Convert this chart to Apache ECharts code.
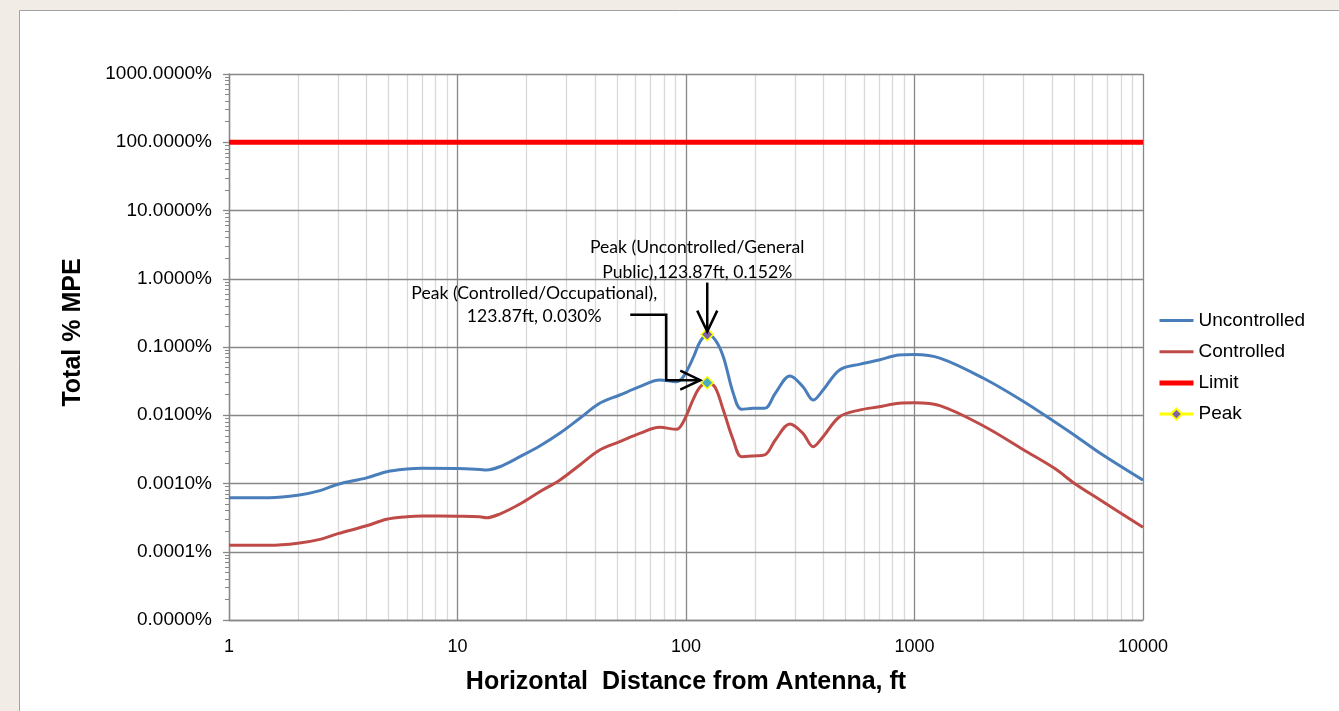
<!DOCTYPE html>
<html>
<head>
<meta charset="utf-8">
<script src="https://cdn.jsdelivr.net/npm/echarts@6/dist/echarts.min.js"></script>
<style>
  html, body { margin: 0; padding: 0; background: #f1ece5; }
  #chart { width: 1339px; height: 711px; }
</style>
</head>
<body>
<div id="chart"></div>
<script>
// Horizontal distance from the antenna (ft)
const distanceFt = [1, 1.5, 2, 2.5, 3, 4, 4.9, 6, 7, 10, 12.5, 13.4, 15.3, 18.75, 22.9, 28, 34.3, 41.9,
  51.3, 62.7, 76.7, 90.8, 97.4, 108, 115, 123.87, 134, 145.6, 161, 175, 197, 221, 246, 285, 325, 360,
  398, 470, 573, 700, 856, 1000, 1300, 2005, 3010, 4100, 5000, 6500, 10000];

// Total % MPE, general public (uncontrolled) exposure
const uncontrolledPct = [0.00062, 0.00062, 0.000671, 0.000785, 0.000975, 0.00121, 0.00149, 0.00163,
  0.00167, 0.00166, 0.00161, 0.00158, 0.00176, 0.00247, 0.00354, 0.00543, 0.00902, 0.01496, 0.0198,
  0.0262, 0.0328, 0.0310, 0.0367, 0.0721, 0.118, 0.152, 0.128, 0.0721, 0.0210, 0.01222, 0.01264,
  0.01264, 0.0210, 0.0376, 0.0262, 0.0167, 0.0234, 0.0461, 0.0557, 0.0645, 0.0764, 0.0777, 0.0683,
  0.0348, 0.0158, 0.00804, 0.00514, 0.00277, 0.00112];

// Total % MPE, occupational (controlled) exposure
const controlledPct = [0.000124, 0.000124, 0.000133, 0.000152, 0.000184, 0.000240, 0.000299, 0.000326,
  0.000334, 0.000331, 0.000326, 0.000315, 0.000357, 0.000501, 0.000759, 0.00112, 0.00187, 0.00310,
  0.00410, 0.00543, 0.00665, 0.00622, 0.00804, 0.0177, 0.0257, 0.030, 0.0257, 0.0119, 0.00434,
  0.00247, 0.00253, 0.00262, 0.00434, 0.00745, 0.00543, 0.00346, 0.00485, 0.00953, 0.0119, 0.0133,
  0.0150, 0.0152, 0.0137, 0.00696, 0.00310, 0.00167, 0.00101, 0.000573, 0.000228];

// 100 % MPE limit across the full distance range
const limitDistance = [1, 10000];
const limitPct = [100, 100];

// Peak points
const peakDistanceFt = 123.87;
const peakUncontrolledPct = 0.152;
const peakControlledPct = 0.030;
const peakUncontrolledLabel = ['Peak (Uncontrolled/General', 'Public),123.87ft, 0.152%'];
const peakControlledLabel = ['Peak (Controlled/Occupational),', '123.87ft, 0.030%'];

// Axis ranges
const xRange = [1, 10000];
const yRange = [0.00001, 1000];

// 2..9 sub-decade positions for the minor grid and minor ticks
function subDecades(lo, hi) {
  const out = [];
  for (let d = lo; d < hi; d *= 10) {
    for (let k = 2; k <= 9; k++) out.push(+(d * k).toPrecision(6));
  }
  return out;
}
const xMinor = subDecades(xRange[0], xRange[1]);
const yMinor = subDecades(yRange[0], yRange[1]);

const pairs = (xs, ys) => xs.map((x, i) => [x, ys[i]]);

const AXIS_GREY = '#878787';
const MINOR_GREY = '#d9d9d9';
const LABEL_FONT = '"Liberation Sans", Arial, sans-serif';
const NOTE_FONT = 'Lato, "Open Sans", sans-serif';

const chart = echarts.init(document.getElementById('chart'), null, { renderer: 'canvas' });

const option = {
  animation: false,
  backgroundColor: 'transparent',
  grid: { left: 229, top: 74, right: 196, bottom: 91, containLabel: false },
  xAxis: [
    {
      type: 'log', logBase: 10, min: xRange[0], max: xRange[1], splitNumber: 4, z: 2,
      name: 'Horizontal  Distance from Antenna, ft', nameLocation: 'middle', nameGap: 50,
      nameTextStyle: { fontFamily: LABEL_FONT, fontWeight: 'bold', fontSize: 25, color: '#000' },
      axisLine: { show: true, lineStyle: { color: AXIS_GREY, width: 1.3 } },
      axisTick: { show: false },
      axisLabel: { fontFamily: LABEL_FONT, fontSize: 18, color: '#000', margin: 18,
        formatter: v => String(Math.round(v)) },
      splitLine: { show: true, lineStyle: { color: AXIS_GREY, width: 1.3 } }
    },
    {
      type: 'log', logBase: 10, min: xRange[0], max: xRange[1], z: 1,
      axisLine: { show: false },
      axisTick: { show: false, customValues: xMinor },
      axisLabel: { show: false },
      splitLine: { show: true, lineStyle: { color: MINOR_GREY, width: 1.3 } }
    }
  ],
  yAxis: [
    {
      type: 'log', logBase: 10, min: yRange[0], max: yRange[1], splitNumber: 8, z: 2,
      name: 'Total % MPE', nameLocation: 'middle', nameGap: 143, nameRotate: 90,
      nameTextStyle: { fontFamily: LABEL_FONT, fontWeight: 'bold', fontSize: 25, color: '#000',
        padding: [0, 0, 0, 29] },
      axisLine: { show: true, lineStyle: { color: AXIS_GREY, width: 1.3 } },
      axisTick: { show: true, length: 6, lineStyle: { color: AXIS_GREY, width: 1.3 } },
      axisLabel: { fontFamily: LABEL_FONT, fontSize: 19, color: '#000', margin: 17,
        formatter: v => v.toFixed(4) + '%' },
      splitLine: { show: true, lineStyle: { color: AXIS_GREY, width: 1.3 } }
    },
    {
      type: 'log', logBase: 10, min: yRange[0], max: yRange[1], position: 'left', z: 1,
      axisLine: { show: false },
      axisTick: { show: true, length: 4, customValues: yMinor, lineStyle: { color: AXIS_GREY, width: 1 } },
      axisLabel: { show: false },
      splitLine: { show: false }
    }
  ],
  legend: {
    orient: 'vertical', left: 1152, top: 306, itemGap: 12.2, itemWidth: 34, itemHeight: 14,
    textStyle: { fontFamily: LABEL_FONT, fontSize: 19, lineHeight: 18, color: '#000' },
    data: [
      { name: 'Uncontrolled', itemStyle: { opacity: 0 }, lineStyle: { width: 3 } },
      { name: 'Controlled', itemStyle: { opacity: 0 }, lineStyle: { width: 3 } },
      { name: 'Limit', itemStyle: { opacity: 0 }, lineStyle: { width: 5 } },
      { name: 'Peak', lineStyle: { width: 3 } }
    ]
  },
  series: [
    {
      name: 'Uncontrolled', type: 'line', smooth: 0.35, symbol: 'none', showSymbol: false, z: 3,
      lineStyle: { color: '#4a7ebb', width: 3 }, itemStyle: { color: '#4a7ebb' },
      data: pairs(distanceFt, uncontrolledPct)
    },
    {
      name: 'Controlled', type: 'line', smooth: 0.35, symbol: 'none', showSymbol: false, z: 3,
      lineStyle: { color: '#be4b48', width: 3 }, itemStyle: { color: '#be4b48' },
      data: pairs(distanceFt, controlledPct)
    },
    {
      name: 'Limit', type: 'line', symbol: 'none', showSymbol: false, z: 3,
      lineStyle: { color: '#ff0000', width: 5 }, itemStyle: { color: '#ff0000' },
      data: pairs(limitDistance, limitPct)
    },
    {
      name: 'Peak', type: 'line', symbol: 'diamond', symbolSize: 12, showSymbol: true, connectNulls: false, z: 5,
      lineStyle: { color: '#ffff00', width: 3 },
      itemStyle: { color: '#8064a2', borderColor: '#ffff00', borderWidth: 1.5 },
      data: [
        [peakDistanceFt, peakUncontrolledPct],
        [peakDistanceFt, '-'],
        { value: [peakDistanceFt, peakControlledPct], itemStyle: { color: '#4bacc6' } }
      ]
    }
  ]
};

chart.setOption(option);

// Callouts anchored to the two peak points
const pU = chart.convertToPixel({ xAxisIndex: 0, yAxisIndex: 0 }, [peakDistanceFt, peakUncontrolledPct]);
const pC = chart.convertToPixel({ xAxisIndex: 0, yAxisIndex: 0 }, [peakDistanceFt, peakControlledPct]);

const ink = { stroke: '#000', lineWidth: 2.5, fill: null };
const noteStyle = (text, x, y) => ({
  type: 'text', z: 10,
  style: { text, x, y, align: 'center', verticalAlign: 'middle', font: '17.6px ' + NOTE_FONT, fill: '#000' }
});

chart.setOption({
  graphic: [
    // white panel behind the chart
    { type: 'rect', z: -10, silent: true,
      shape: { x: 19.5, y: 10.5, width: 1400, height: 800 },
      style: { fill: '#ffffff', stroke: '#a3a3a3', lineWidth: 1 } },

    noteStyle(peakUncontrolledLabel[0], pU[0] - 10, pU[1] - 87),
    noteStyle(peakUncontrolledLabel[1], pU[0] - 10, pU[1] - 62),
    { type: 'polyline', z: 10, shape: { points: [[pU[0], pU[1] - 52], [pU[0], pU[1] - 3]] }, style: ink },
    { type: 'polyline', z: 10,
      shape: { points: [[pU[0] - 10, pU[1] - 24], [pU[0], pU[1] - 3], [pU[0] + 10, pU[1] - 24]] }, style: ink },

    noteStyle(peakControlledLabel[0], pC[0] - 173, pC[1] - 89),
    noteStyle(peakControlledLabel[1], pC[0] - 173, pC[1] - 66),
    { type: 'polyline', z: 10,
      shape: { points: [[pC[0] - 77, pC[1] - 68], [pC[0] - 41, pC[1] - 68], [pC[0] - 41, pC[1] - 2.5], [pC[0] - 7, pC[1] - 2.5]] },
      style: ink },
    { type: 'polyline', z: 10,
      shape: { points: [[pC[0] - 27, pC[1] - 12], [pC[0] - 7, pC[1] - 2.5], [pC[0] - 27, pC[1] + 7]] }, style: ink }
  ]
});
</script>
</body>
</html>
